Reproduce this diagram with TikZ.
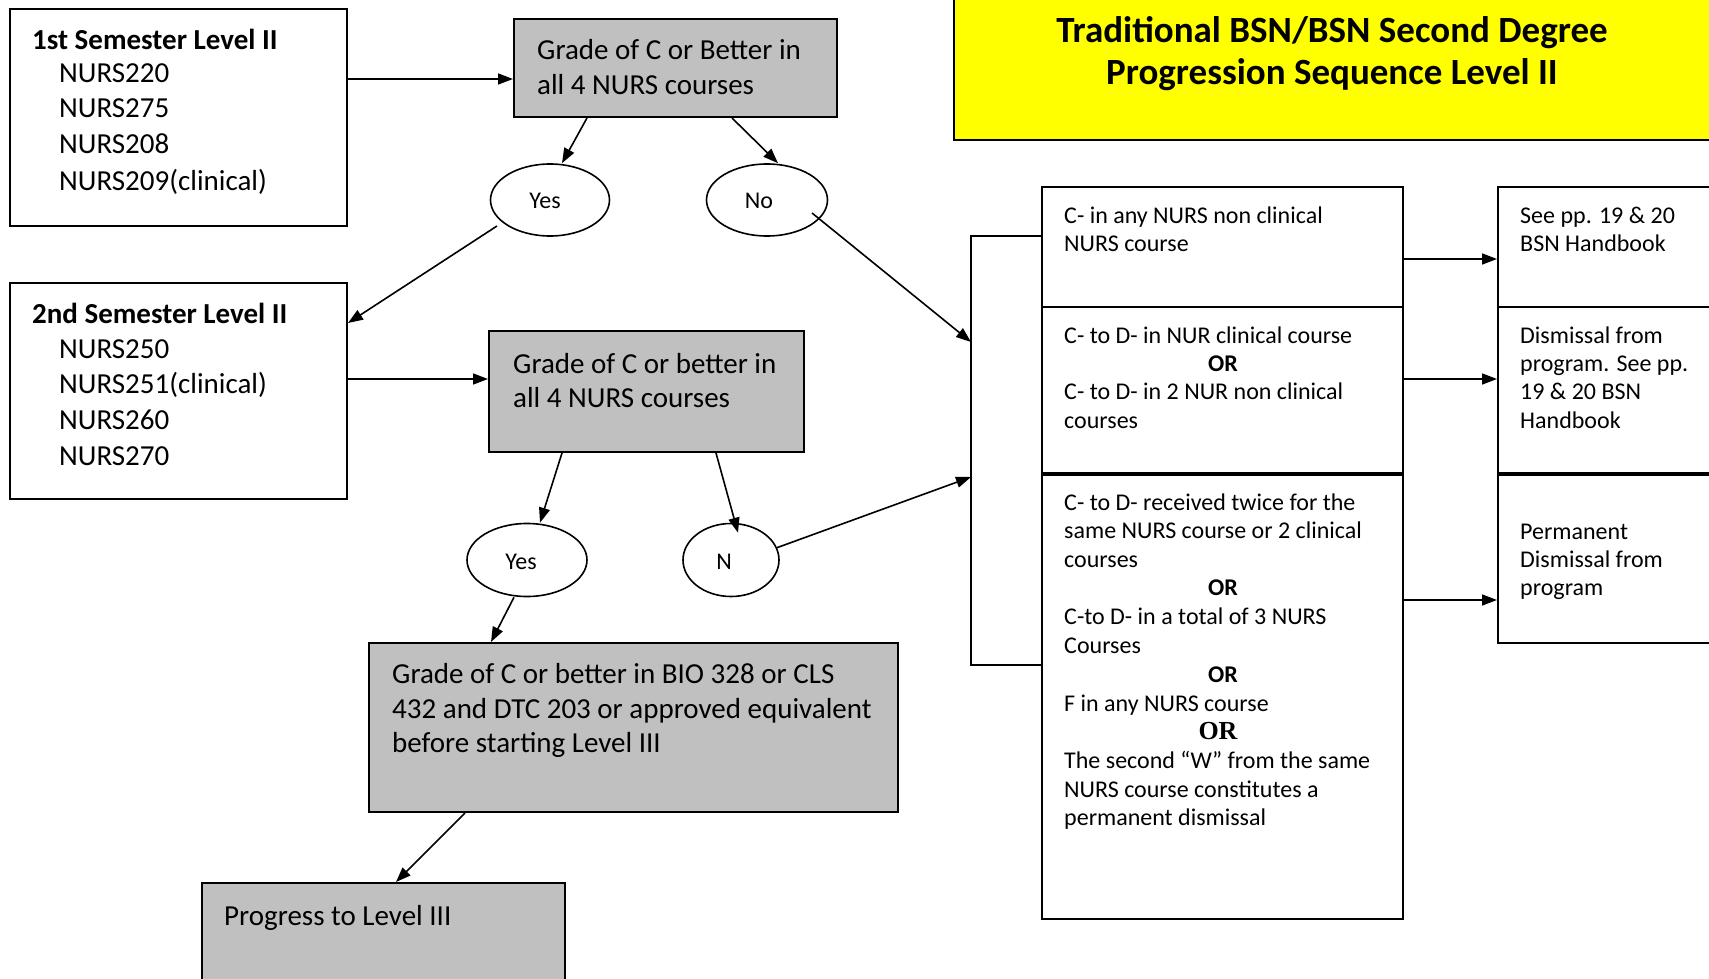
\documentclass[tikz,border=0pt]{standalone}
\usepackage{fontspec}
\setmainfont{Carlito}
\newfontfamily\serifor{Liberation Serif}
\usetikzlibrary{arrows.meta,shapes.geometric}
\definecolor{boxgrey}{HTML}{C0C0C0}
\definecolor{titleyellow}{HTML}{FFFF00}
\newcommand{\fbody}{\fontsize{29}{35}\selectfont}
\newcommand{\fsm}{\fontsize{24}{28.7}\selectfont}
\newcommand{\ftitle}{\fontsize{37}{43}\selectfont}
\begin{document}
\begin{tikzpicture}[x=1pt,y=-1pt,
  box/.style={draw, line width=2pt, inner sep=0pt},
  greybox/.style={box, fill=boxgrey},
  oval/.style={draw, ellipse, line width=1.6pt, inner sep=0pt},
  arr/.style={line width=1.6pt, -{Triangle[length=15pt,width=11pt]}},
  ln/.style={line width=1.6pt},
  tb/.style={anchor=base west, inner sep=0pt, font=\fbody},
  tbb/.style={anchor=base west, inner sep=0pt, font=\fbody\bfseries},
  ts/.style={anchor=base west, inner sep=0pt, font=\fsm},
  tor/.style={anchor=base, inner sep=0pt, font=\fsm\bfseries},
  tlab/.style={anchor=base, inner sep=0pt, font=\fsm},
  ttl/.style={anchor=base, inner sep=0pt, font=\ftitle\bfseries}]
\useasboundingbox (0,0) rectangle (1709,979);
% boxes
\node[box, minimum width=337pt, minimum height=217pt] (b1) at (178.5,117.5) {};
\node[greybox, minimum width=323pt, minimum height=98pt] (g1) at (675.5,68) {};
\node[box, minimum width=337pt, minimum height=216pt] (b2) at (178.5,391) {};
\node[greybox, minimum width=315pt, minimum height=121pt] (g2) at (646.5,391.5) {};
\node[greybox, minimum width=529pt, minimum height=169pt] (g3) at (633.5,727.5) {};
\node[greybox, minimum width=363pt, minimum height=117pt] (pg) at (383.5,941.5) {};
\node[box, fill=titleyellow, minimum width=766pt, minimum height=150pt] (title) at (1337,65) {};
\node[box, minimum width=361pt, minimum height=120pt] (m1) at (1222.5,247) {};
\node[box, minimum width=361pt, minimum height=168pt] (m2) at (1222.5,391) {};
\node[box, minimum width=361pt, minimum height=444pt] (m3) at (1222.5,697) {};
\node[box, minimum width=222pt, minimum height=120pt] (r1) at (1609,247) {};
\node[box, minimum width=222pt, minimum height=168pt] (r2) at (1609,391) {};
\node[box, minimum width=222pt, minimum height=168pt] (r3) at (1609,559) {};
\draw[line width=4pt] (m3.north west) -- (m3.north east);
\draw[line width=4pt] (r3.north west) -- (r3.north east);
% ellipses
\node[oval, minimum width=119pt, minimum height=72pt] (y1) at (550,200) {};
\node[oval, minimum width=121pt, minimum height=72pt] (n1) at (767,200) {};
\node[oval, minimum width=120pt, minimum height=73pt] (y2) at (527,560) {};
\node[oval, minimum width=96pt, minimum height=73pt] (n2) at (731,560) {};
% bracket
\coordinate (bt) at (971,236);
\coordinate (bb) at (971,665);
\draw[ln] (m1.west |- bt) -- (bt) -- (bb) -- (m3.west |- bb);
% connectors
\draw[arr] (b1.east |- 0,79) -- (g1.west |- 0,79);
\draw[arr] (b2.east |- 0,379) -- (g2.west |- 0,379);
\draw[arr] (g1.south -| 587,0) -- (y1.north -| 562,0);
\draw[arr] (g1.south -| 732,0) -- (n1.north -| 778,0);
\draw[arr] ([xshift=-53pt,yshift=-26pt]y1.center) -- (b2.east |- 0,323);
\draw[arr] ([xshift=45pt,yshift=-13pt]n1.center) -- (bt |- 0,342);
\draw[arr] (g2.south -| 562,0) -- (y2.north -| 540,0);
\draw[arr] (g2.south -| 716,0) -- ([xshift=7pt,yshift=-10pt]n2.north);
\draw[arr] (n2.15) -- (bt |- 0,477);
\draw[arr] (y2.south -| 514,0) -- (g3.north -| 491,0);
\draw[arr] (g3.south -| 465,0) -- (pg.north -| 396,0);
\draw[arr] (m1.east |- 0,259) -- (r1.west |- 0,259);
\draw[arr] (m2.east |- 0,379) -- (r2.west |- 0,379);
\draw[arr] (m3.east |- 0,600) -- (r3.west |- 0,600);
% texts
\node[tbb] (tb1) at (32,50) {1st Semester Level II};
\node[tb] (tb1a) at (59,83) {NURS220};
\node[tb] (tb1b) at (59,118) {NURS275};
\node[tb] (tb1c) at (59,154) {NURS208};
\node[tb] (tb1d) at (59,190) {NURS209(clinical)};
\node[tbb] (tb2) at (32,323) {2nd Semester Level II};
\node[tb] (tb2a) at (59,358) {NURS250};
\node[tb] (tb2b) at (59,393) {NURS251(clinical)};
\node[tb] (tb2c) at (59,429) {NURS260};
\node[tb] (tb2d) at (59,465) {NURS270};
\node[tb] (tg1a) at (537,60) {Grade of C or Better in};
\node[tb] (tg1b) at (537,95) {all 4 NURS courses};
\node[tb] (tg2a) at (513,373) {Grade of C or better in};
\node[tb] (tg2b) at (513,407) {all 4 NURS courses};
\node[tb] (tg3a) at (392,683) {Grade of C or better in BIO 328 or CLS};
\node[tb] (tg3b) at (392,718) {432 and DTC 203 or approved equivalent};
\node[tb] (tg3c) at (392,752) {before starting Level III};
\node[tb] (tpg) at (224,925) {Progress to Level III};
\node[tlab] (ty1) at (545,208) {Yes};
\node[tlab] (tn1) at (759,208) {No};
\node[tlab] (ty2) at (521,569) {Yes};
\node[tlab] (tn2) at (724,569) {N};
\node[ttl] (tt1) at (1332,43) {Traditional BSN/BSN Second Degree};
\node[ttl] (tt2) at (1332,85) {Progression Sequence Level II};
\node[ts] (tm1a) at (1064,223) {C- in any NURS non clinical};
\node[ts] (tm1b) at (1064,251) {NURS course};
\node[ts] (tm2a) at (1064,343) {C- to D- in NUR clinical course};
\node[tor] (tm2o) at (1223,371) {OR};
\node[ts] (tm2b) at (1064,399) {C- to D- in 2 NUR non clinical};
\node[ts] (tm2c) at (1064,428) {courses};
\node[ts] (tm3a) at (1064,510) {C- to D- received twice for the};
\node[ts] (tm3b) at (1064,538) {same NURS course or 2 clinical};
\node[ts] (tm3c) at (1064,567) {courses};
\node[tor] (tm3o1) at (1223,595) {OR};
\node[ts] (tm3d) at (1064,624) {C-to D- in a total of 3 NURS};
\node[ts] (tm3e) at (1064,653) {Courses};
\node[tor] (tm3o2) at (1223,682) {OR};
\node[ts] (tm3f) at (1064,711) {F in any NURS course};
\node[anchor=base, inner sep=0pt, font=\serifor\fontsize{26}{30}\selectfont\bfseries] (tm3o3) at (1218,739) {OR};
\node[ts] (tm3g) at (1064,768) {The second “W” from the same};
\node[ts] (tm3h) at (1064,797) {NURS course constitutes a};
\node[ts] (tm3i) at (1064,825) {permanent dismissal};
\node[ts] (tr1a) at (1520,223) {See pp. 19 \& 20};
\node[ts] (tr1b) at (1520,251) {BSN Handbook};
\node[ts] (tr2a) at (1520,343) {Dismissal from};
\node[ts] (tr2b) at (1520,371) {program. See pp.};
\node[ts] (tr2c) at (1520,399) {19 \& 20 BSN};
\node[ts] (tr2d) at (1520,428) {Handbook};
\node[ts] (tr3a) at (1520,539) {Permanent};
\node[ts] (tr3b) at (1520,567) {Dismissal from};
\node[ts] (tr3c) at (1520,595) {program};
\end{tikzpicture}
\end{document}
